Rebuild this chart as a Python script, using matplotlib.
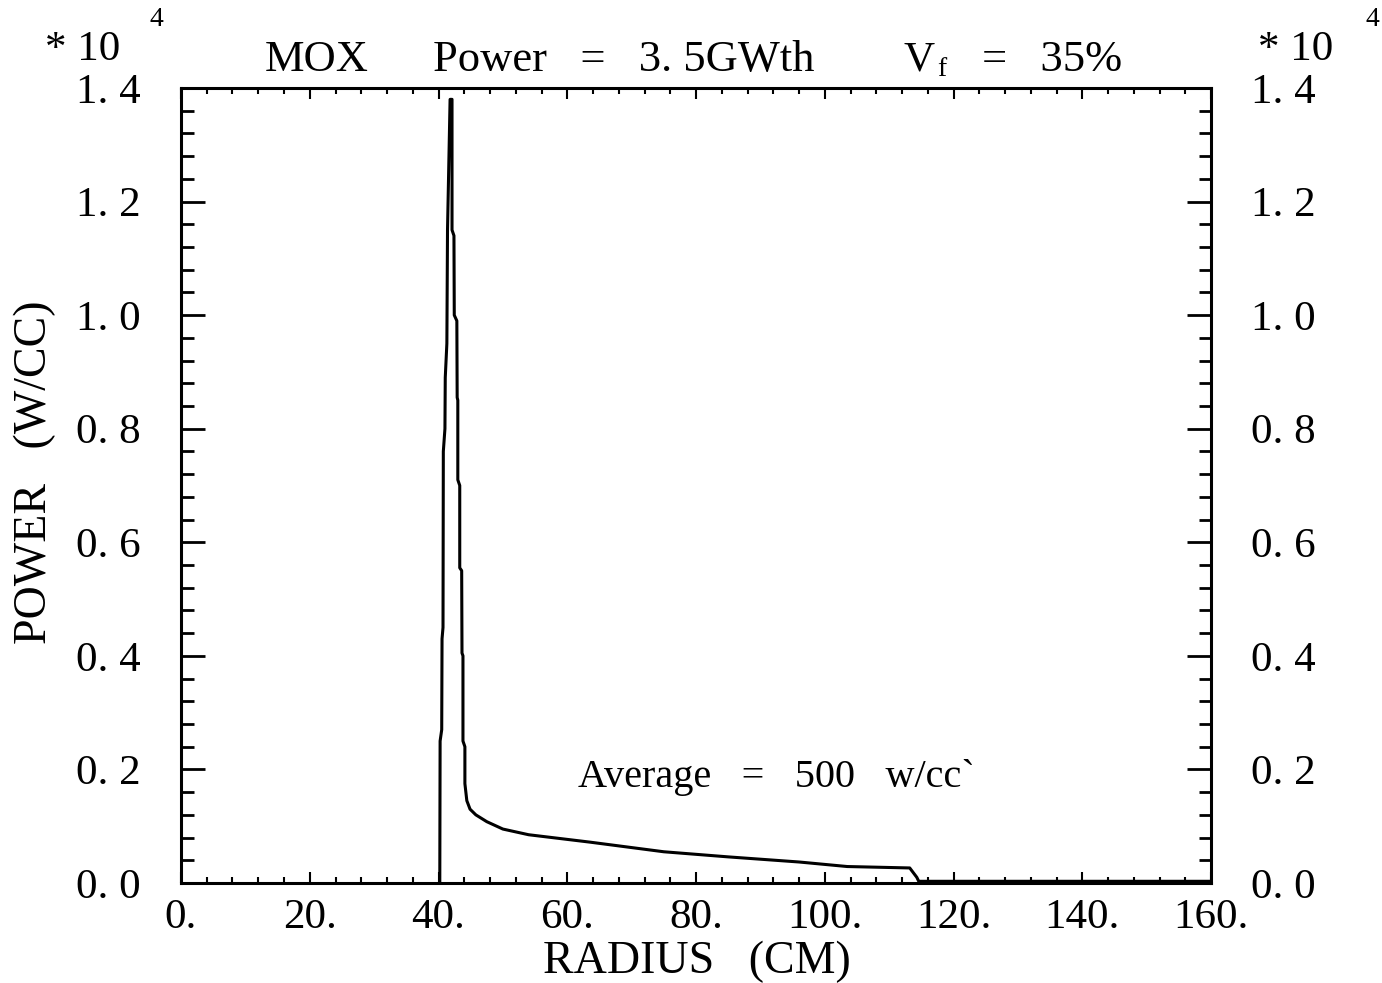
import matplotlib.pyplot as plt
from matplotlib.ticker import MultipleLocator, FuncFormatter

# power density profile
radius = [40.2, 40.25, 40.5, 40.55, 40.7, 40.75, 41.0, 41.05, 41.3, 41.4, 41.8,
          42.1, 42.1, 42.4, 42.45, 42.85, 42.9, 43.0, 43.0, 43.3, 43.3, 43.6,
          43.65, 43.8, 43.8, 44.1, 44.1, 44.4, 44.9, 45.8, 47.5, 50.0, 54.0,
          63.5, 75.0, 85.0, 96.0, 103.5, 113.2, 114.3, 114.6, 160.0]
power = [0, 2500, 2700, 4300, 4500, 7600, 8000, 8900, 9500, 11500, 13800,
         13800, 11500, 11400, 10000, 9900, 8550, 8500, 7100, 7000, 5550, 5500,
         4050, 4000, 2500, 2400, 1750, 1450, 1300, 1200, 1080, 950, 850,
         720, 550, 460, 370, 290, 265, 100, 30, 30]

W, H = 1382, 983
FONT = 'Liberation Serif'

fig = plt.figure(figsize=(W / 100, H / 100), dpi=100)
ax = fig.add_axes([181 / W, 1 - 883 / H, (1211 - 181) / W, (883 - 88) / H])

ax.plot(radius, power, color='black', lw=2.2)
ax.set_xlim(0, 160)
ax.set_ylim(0, 14000)

ax.xaxis.set_major_locator(MultipleLocator(20))
ax.xaxis.set_minor_locator(MultipleLocator(4))
ax.yaxis.set_major_locator(MultipleLocator(2000))
ax.yaxis.set_minor_locator(MultipleLocator(400))

ax.xaxis.set_major_formatter(FuncFormatter(lambda v, p: f"{int(round(v))}."))
ax.yaxis.set_major_formatter(FuncFormatter(lambda v, p: f"{v / 10000:.1f}".replace('.', '. ')))

ax.tick_params(which='both', direction='in', top=True, right=True,
               labelright=True, color='black')
ax.tick_params(axis='y', which='major', length=17, width=2, pad=29, labelsize=31)
ax.tick_params(axis='y', which='minor', length=9, width=2)
ax.tick_params(axis='x', which='major', length=8, width=1.5, pad=11, labelsize=31)
ax.tick_params(axis='x', which='minor', length=4, width=1.5)
for t in ax.xaxis.get_major_ticks() + ax.yaxis.get_major_ticks():
    t.label1.set_fontfamily(FONT)
    t.label2.set_fontfamily(FONT)
for sp in ax.spines.values():
    sp.set_linewidth(2.2)

def ftext(x, y, s, **kw):
    kw.setdefault('family', FONT)
    kw.setdefault('fontsize', 31)
    fig.text(x / W, 1 - y / H, s, **kw)

# scale factor labels
ftext(45, 50, '* 10', va='center')
ftext(150, 20, '4', va='center', fontsize=20)
ftext(1258, 50, '* 10', va='center')
ftext(1366, 20, '4', va='center', fontsize=20)

# title pieces
ftext(265, 60, 'MOX', va='center', fontsize=32)
ftext(433, 60, 'Power   =   3. 5GWth', va='center', fontsize=32)
ftext(903, 60, 'V', va='center')
ftext(937, 70, 'f', va='center', fontsize=20)
ftext(982, 60, '=   35%', va='center', fontsize=32)

# axis labels
ftext(697, 962, 'RADIUS   (CM)', ha='center', va='center', fontsize=33)
ftext(35, 472, 'POWER   (W/CC)', ha='center', va='center', rotation=90,
      fontsize=33)

ax.text(61.7, 1850, 'Average   =   500   w/cc`', family=FONT, fontsize=29,
        va='center', ha='left')

fig.savefig('out.png', dpi=100)
